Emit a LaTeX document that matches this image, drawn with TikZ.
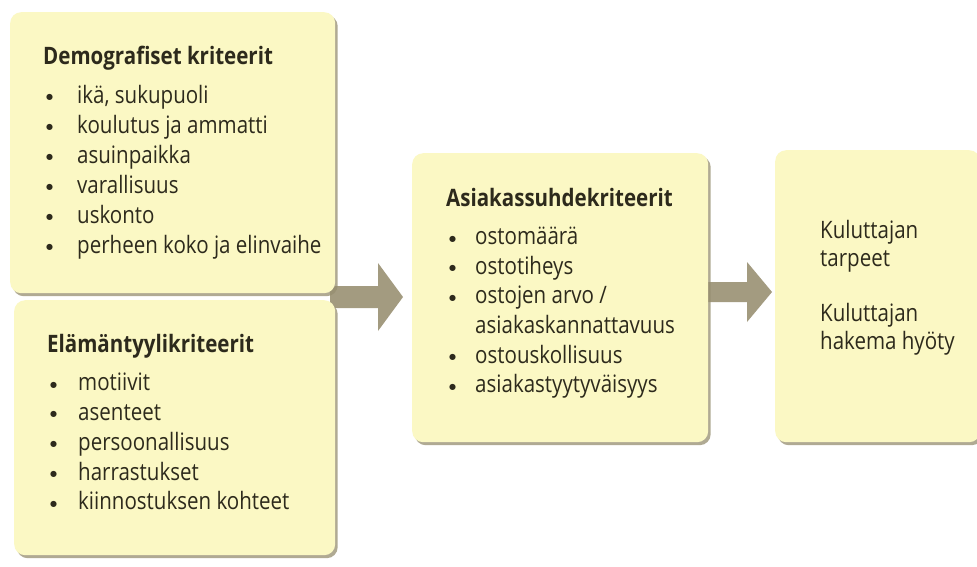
\documentclass[tikz,border=0pt]{standalone}
\usepackage{fontspec}
\setmainfont{Open Sans}[FakeStretch=0.855]
\newfontfamily\dotfont{DejaVu Sans}
\usetikzlibrary{shadows}
\definecolor{boxc}{RGB}{251,248,196}
\definecolor{shadowc}{RGB}{150,142,112}
\definecolor{arrowc}{RGB}{163,155,128}
\definecolor{textc}{RGB}{45,42,28}
\newcommand{\bul}[1][30pt]{\makebox[#1][l]{\hspace{3pt}\raisebox{3.6pt}{\dotfont\fontsize{8}{8}\selectfont ●}}}
\begin{document}
\begin{tikzpicture}[x=1pt,y=-1pt,
  box/.style={draw=none,fill=boxc,rounded corners=11pt,anchor=north west,inner sep=0pt,
    drop shadow={shadow xshift=2.5pt,shadow yshift=-3pt,fill=shadowc,opacity=0.75}},
  txt/.style={inner sep=0pt,anchor=base west,text=textc,align=left},
  bigarrow/.style={fill=arrowc,draw=none}]
\useasboundingbox (0,0) rectangle (977,566);
\fill[white] (0,0) rectangle (977,566);
% arrows (behind boxes)
\fill[bigarrow] (330,286) -- (378,286) -- (378,263) -- (403,297) -- (378,331) -- (378,308) -- (330,308) -- cycle;
\fill[bigarrow] (700,282) -- (747,282) -- (747,262) -- (772,292) -- (747,322) -- (747,302) -- (700,302) -- cycle;
% boxes
\node[box,minimum width=325pt,minimum height=281pt] (demo) at (10,12) {};
\node[box,minimum width=321pt,minimum height=255pt] (life) at (14,300) {};
\node[box,minimum width=296pt,minimum height=289pt] (rel) at (412,153) {};
\node[box,minimum width=205pt,minimum height=292pt] (need) at (775,150) {};
% texts
\node[txt] (demotext) at (43,64) {\fontsize{24}{30}\selectfont
\begin{tabular}[t]{@{}l@{}}
\textbf{Demografiset kriteerit}\\[9pt]
\bul[34pt]ikä, sukupuoli\\
\bul[34pt]koulutus ja ammatti\\
\bul[34pt]asuinpaikka\\
\bul[34pt]varallisuus\\
\bul[34pt]uskonto\\
\bul[34pt]perheen koko ja elinvaihe
\end{tabular}};
\node[txt] (lifetext) at (47,352) {\fontsize{24}{29.75}\selectfont
\begin{tabular}[t]{@{}l@{}}
\textbf{Elämäntyylikriteerit}\\[9pt]
\bul[31pt]motiivit\\
\bul[31pt]asenteet\\
\bul[31pt]persoonallisuus\\
\bul[31pt]harrastukset\\
\bul[31pt]kiinnostuksen kohteet
\end{tabular}};
\node[txt] (reltext) at (446,206) {\fontsize{24}{29.6}\selectfont
\begin{tabular}[t]{@{}l@{}}
\textbf{Asiakassuhdekriteerit}\\[9pt]
\bul[29pt]ostomäärä\\
\bul[29pt]ostotiheys\\
\bul[29pt]ostojen arvo /\\
\makebox[29pt]{}asiakaskannattavuus\\
\bul[29pt]ostouskollisuus\\
\bul[29pt]asiakastyytyväisyys
\end{tabular}};
\node[txt] (needtext) at (820,238) {\fontsize{24}{28}\selectfont
\begin{tabular}[t]{@{}l@{}}
Kuluttajan\\
tarpeet\\[27pt]
Kuluttajan\\
hakema hyöty
\end{tabular}};
\end{tikzpicture}
\end{document}
